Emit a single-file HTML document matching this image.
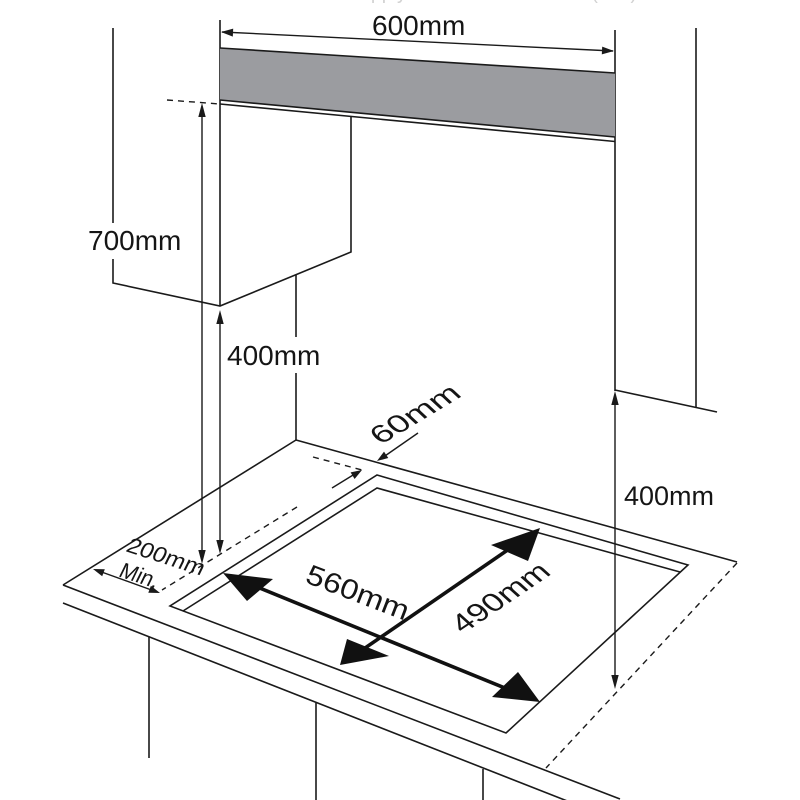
<!DOCTYPE html>
<html>
<head>
<meta charset="utf-8">
<style>
  html,body{margin:0;padding:0;background:#fff;}
  svg{display:block;}
  text{font-family:"Liberation Sans", Arial, sans-serif;fill:#151515;}
</style>
</head>
<body>
<svg width="800" height="800" viewBox="0 0 800 800" xmlns="http://www.w3.org/2000/svg">
  <rect width="800" height="800" fill="#fff"/>

  <!-- faint cropped text at very top -->
  <text x="157" y="-1" font-size="20" textLength="480" lengthAdjust="spacingAndGlyphs" style="fill:#d2d2d2">Installation dimensions apply to the hood and hob (mm)</text>

  <g stroke="#1a1a1a" stroke-width="1.6" fill="none" stroke-linecap="butt">
    <!-- left wall cabinet outline -->
    <polyline points="113,28 113,223"/>
    <polyline points="113,259 113,283 220,306 351,252 351,117"/>
    <!-- cabinet front vertical -->
    <line x1="220" y1="20" x2="220" y2="306"/>
    <!-- wall corner line -->
    <line x1="296" y1="275" x2="296" y2="337"/>
    <line x1="296" y1="373" x2="296" y2="440"/>

    <!-- right cabinet lines -->
    <line x1="615" y1="30" x2="615" y2="391"/>
    <line x1="696" y1="28" x2="696" y2="407"/>
    <line x1="615" y1="390" x2="717" y2="412"/>

    <!-- countertop -->
    <line x1="296" y1="440" x2="63" y2="585"/>
    <line x1="296" y1="440" x2="737" y2="562"/>
    <line x1="63" y1="585" x2="620" y2="799"/>
    <line x1="63" y1="603" x2="580" y2="806"/>
    <!-- under counter cabinet verticals -->
    <line x1="149" y1="637" x2="149" y2="758"/>
    <line x1="316" y1="703" x2="316" y2="800"/>
    <line x1="483" y1="769" x2="483" y2="800"/>

    <!-- hob -->
    <polygon points="377,475 688,565 506,733 170,606"/>
    <polyline points="183,611 377,488 680,572"/>
  </g>

  <!-- gray hood band -->
  <polygon points="220,48 615,73 615,137 220,100" fill="#9b9ca0"/>
  <g stroke="#1a1a1a" stroke-width="1.6">
    <line x1="220" y1="48" x2="615" y2="73"/>
    <line x1="220" y1="100" x2="615" y2="137"/>
    <line x1="220" y1="104" x2="615" y2="141.5"/>
  </g>

  <!-- dashed lines -->
  <g stroke="#1a1a1a" stroke-width="1.4" fill="none" stroke-dasharray="6,5">
    <line x1="167" y1="100" x2="220" y2="104"/>
    <line x1="297" y1="507" x2="162" y2="590"/>
    <line x1="313" y1="457" x2="362" y2="470"/>
    <line x1="737" y1="563" x2="546" y2="768"/>
  </g>

  <!-- thin dimension lines -->
  <g stroke="#1a1a1a" stroke-width="1.4" fill="none">
    <line x1="222" y1="32" x2="613" y2="51"/>
    <line x1="202" y1="110" x2="202" y2="556"/>
    <line x1="220" y1="317" x2="220" y2="547"/>
    <line x1="615" y1="398" x2="615" y2="682"/>
    <line x1="96" y1="570" x2="157" y2="592"/>
    <line x1="418" y1="433" x2="382" y2="458"/>
    <line x1="332" y1="488" x2="358" y2="472"/>
  </g>
  <g fill="#1a1a1a">
    <!-- 600mm heads -->
    <polygon points="221,32 233.2,28.6 232.8,36.6"/>
    <polygon points="614,51 602.2,46.6 601.8,54.4"/>
    <!-- 700mm heads -->
    <polygon points="202,103 198.3,117 205.7,117"/>
    <polygon points="202,564 198.3,550 205.7,550"/>
    <!-- 400 left heads -->
    <polygon points="220,310 216.3,324 223.7,324"/>
    <polygon points="220,554 216.3,540 223.7,540"/>
    <!-- 400 right heads -->
    <polygon points="615,391 611.3,405 618.7,405"/>
    <polygon points="615,689 611.3,675 618.7,675"/>
    <!-- 200mm heads -->
    <polygon points="93,569 102.2,576.2 104.8,569.2"/>
    <polygon points="160,593 148.3,592.8 150.9,585.8"/>
    <!-- 60mm heads -->
    <polygon points="377,461 388.3,458 384,451.6"/>
    <polygon points="362,470 354.6,479 350.6,472.4"/>
  </g>

  <!-- thick arrows -->
  <g stroke="#111" stroke-width="3.6">
    <line x1="240" y1="580" x2="522" y2="695"/>
    <line x1="352" y1="657" x2="525" y2="538"/>
  </g>
  <g fill="#111">
    <polygon points="223,573 247,601 273,579"/>
    <polygon points="540,702 492,697 518,672"/>
    <polygon points="540,528 491,545 528,561"/>
    <polygon points="340,665 347,639 389,656"/>
  </g>

  <!-- labels -->
  <text x="372" y="35" font-size="28">600mm</text>
  <text x="88" y="250" font-size="28">700mm</text>
  <text x="227" y="365" font-size="28">400mm</text>
  <text x="624" y="505" font-size="27">400mm</text>

  <text transform="translate(415,414) rotate(-31) skewX(16)" x="0" y="9" font-size="27" text-anchor="middle" textLength="96" lengthAdjust="spacingAndGlyphs">60mm</text>
  <text transform="translate(166,557) rotate(18) skewX(-8)" x="0" y="7" font-size="22" text-anchor="middle" textLength="80" lengthAdjust="spacingAndGlyphs">200mm</text>
  <text transform="translate(140,575) rotate(18) skewX(-8)" x="0" y="8" font-size="22" text-anchor="middle" textLength="40" lengthAdjust="spacingAndGlyphs">Min.</text>
  <text transform="translate(358,592) rotate(21) skewX(0)" x="0" y="10" font-size="28" text-anchor="middle" textLength="108" lengthAdjust="spacingAndGlyphs">560mm</text>
  <text transform="translate(500,597) rotate(-34) skewX(14)" x="0" y="10" font-size="28" text-anchor="middle" textLength="108" lengthAdjust="spacingAndGlyphs">490mm</text>
</svg>
</body>
</html>
